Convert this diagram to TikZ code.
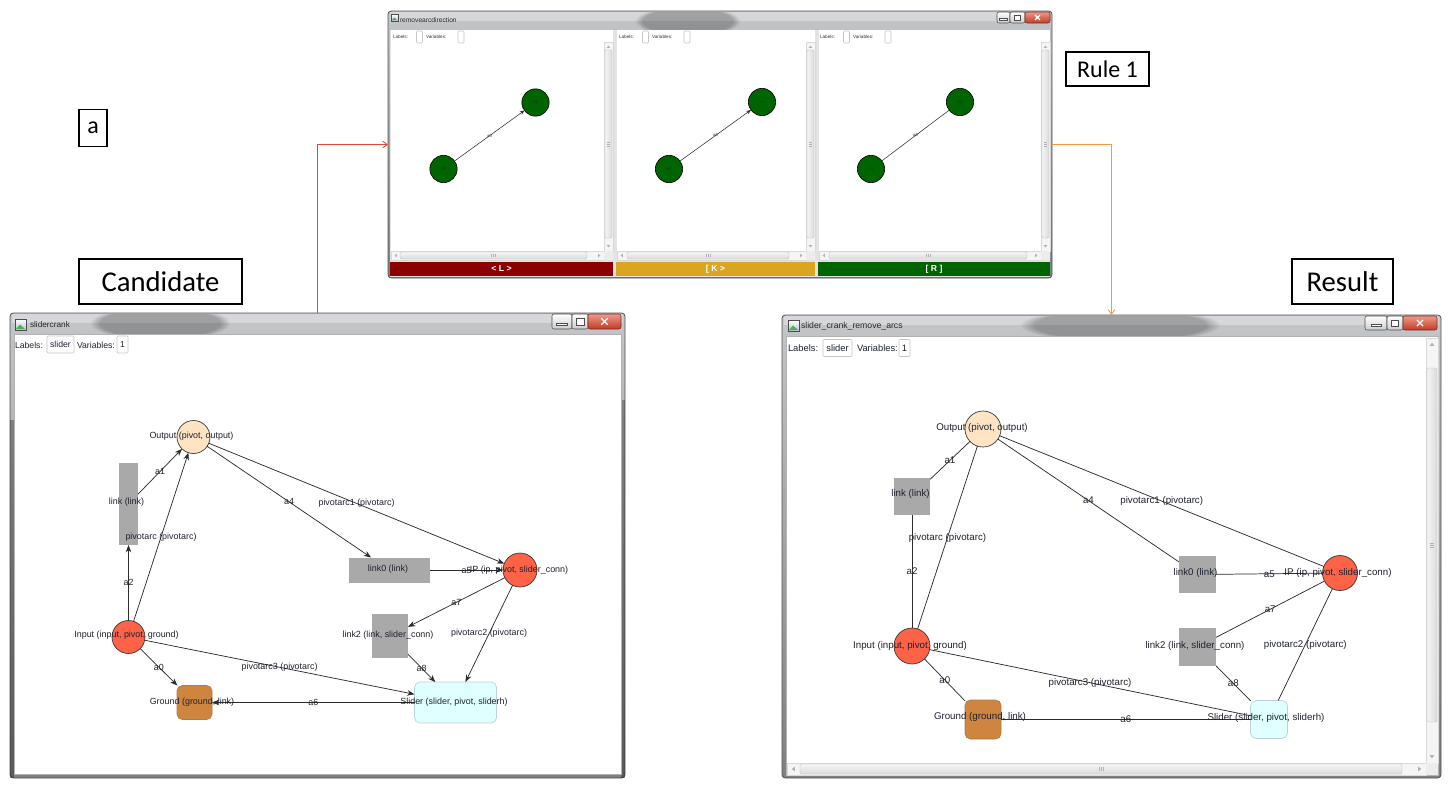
\documentclass[tikz,border=0pt]{standalone}
\usepackage{fontspec}
\setmainfont{Liberation Sans}
\newfontfamily\calfont{Carlito}
\usetikzlibrary{arrows.meta,fit,fadings}

% palette
\definecolor{nodeOut}{HTML}{FFE4C4}
\definecolor{nodeRed}{HTML}{FF6347}
\definecolor{linkGray}{HTML}{A9A9A9}
\definecolor{sliderFill}{HTML}{E0FFFF}
\definecolor{sliderLine}{HTML}{B9D3DA}
\definecolor{groundFill}{HTML}{CD853F}
\definecolor{groundLine}{HTML}{B07A45}
\definecolor{ruleGreen}{HTML}{006400}
\definecolor{barRed}{HTML}{8B0000}
\definecolor{barGold}{HTML}{DAA520}
\definecolor{barGreen}{HTML}{006400}
\definecolor{connRed}{HTML}{E2463B}
\definecolor{connOrange}{HTML}{F79646}
\definecolor{edgeCol}{HTML}{2B2B2B}
\definecolor{textCol}{HTML}{1E2230}
\definecolor{frameTop}{HTML}{C4C7CA}
\definecolor{frameBot}{HTML}{7E8184}
\definecolor{frameLine}{HTML}{505356}
\definecolor{closeTop}{HTML}{EC9A88}
\definecolor{closeBot}{HTML}{C23A27}
\definecolor{closeLine}{HTML}{7A2A20}

\tikzset{
  sz/.style 2 args={minimum width=#1*0.75pt,minimum height=#2*0.75pt},
  circ/.style={circle,minimum size=#1*1.5pt},
  plain/.style={inner sep=0pt,outer sep=0pt},
  tagbox/.style={plain,draw=black,line width=0.8pt,fill=white},
  framefill/.style={rounded corners=2.5pt,top color=frameTop,bottom color=frameBot,draw=frameLine,line width=0.6pt},
  glassblur/.style={fill=black,opacity=0.25,path fading=circle with fuzzy edge 15 percent},
  clientfill/.style={fill=white,draw=gray!60,line width=0.4pt},
  field/.style={plain,draw=gray!45,fill=white,line width=0.4pt,rounded corners=0.8pt},
  btn/.style={rounded corners=1.5pt,top color=white,bottom color=gray!40,draw=gray!60!black,line width=0.4pt},
  btnclose/.style={rounded corners=1.5pt,top color=closeTop,bottom color=closeBot,draw=closeLine,line width=0.4pt},
  sbtrack/.style={fill=gray!8,draw=gray!30,line width=0.3pt},
  sbthumb/.style={rounded corners=1pt,left color=gray!8,right color=gray!28,draw=gray!55,line width=0.3pt},
  sbthumbh/.style={rounded corners=1pt,top color=gray!8,bottom color=gray!28,draw=gray!55,line width=0.3pt},
  linkbox/.style={plain,fill=linkGray},
  outnode/.style={plain,circle,fill=nodeOut,draw=black!80,line width=0.5pt},
  rednode/.style={plain,circle,fill=nodeRed,draw=black!80,line width=0.5pt},
  slidernode/.style={plain,fill=sliderFill,draw=sliderLine,line width=0.5pt,rounded corners=4pt},
  groundnode/.style={plain,fill=groundFill,draw=groundLine,line width=0.5pt,rounded corners=4pt},
  darrow/.style={draw=edgeCol,line width=0.55pt,-{Stealth[length=5.5pt,width=4.2pt]}},
  uline/.style={draw=edgeCol,line width=0.55pt},
  ltext/.style={plain,font=\fontsize{6.7}{8}\selectfont,text=textCol},
  rtext/.style={plain,font=\fontsize{7.3}{8.5}\selectfont,text=textCol},
  gnode/.style={plain,circle,fill=ruleGreen,draw=black,line width=0.45pt,minimum size=20.5pt,font=\fontsize{3.2}{4}\selectfont,text=black!85},
  garrow/.style={draw=edgeCol,line width=0.4pt,-{Stealth[length=3.5pt,width=2.8pt]}},
  gline/.style={draw=edgeCol,line width=0.4pt},
  gtext/.style={plain,font=\fontsize{3.2}{4}\selectfont,text=black!80},
  bartext/.style={plain,font=\bfseries\fontsize{6.5}{7}\selectfont,text=white},
  connRedArrow/.style={draw=connRed,line width=0.6pt,-{Straight Barb[length=3.5pt,width=5pt]}},
  connOrangeArrow/.style={draw=connOrange,line width=0.6pt,-{Straight Barb[length=3.5pt,width=5pt]}},
}

% caption buttons: x-left, x min|max, x max|close, x-right, y-top, y-bottom
\newcommand{\capbuttons}[6]{%
  \draw[btn] (#1,#5) rectangle (#2,#6);
  \draw[btn] (#2,#5) rectangle (#3,#6);
  \draw[btnclose] (#3,#5) rectangle (#4,#6);
  \pgfmathsetmacro\btnCY{(#5+#6)/2}%
  \pgfmathsetmacro\btnU{0.2*(#6-#5)}%
  \pgfmathsetmacro\btnMinX{(#1+#2)/2}%
  \pgfmathsetmacro\btnMaxX{(#2+#3)/2}%
  \pgfmathsetmacro\btnClX{(#3+#4)/2}%
  \draw[black!70,fill=white,line width=0.25pt] ({\btnMinX-1.8*\btnU},{\btnCY+0.4*\btnU}) rectangle ({\btnMinX+1.8*\btnU},{\btnCY+1.3*\btnU});
  \draw[black!70,fill=white,line width=0.3pt] ({\btnMaxX-1.3*\btnU},{\btnCY-1.1*\btnU}) rectangle ({\btnMaxX+1.3*\btnU},{\btnCY+1.1*\btnU});
  \draw[white,line width=0.9pt] ({\btnClX-1.1*\btnU},{\btnCY-1.1*\btnU}) -- ({\btnClX+1.1*\btnU},{\btnCY+1.1*\btnU})
                                ({\btnClX-1.1*\btnU},{\btnCY+1.1*\btnU}) -- ({\btnClX+1.1*\btnU},{\btnCY-1.1*\btnU});
}

% vertical scroll bar: x1, y1, x2, y2, thumb top, thumb bottom
\newcommand{\vscrollbar}[6]{%
  \draw[sbtrack] (#1,#2) rectangle (#3,#4);
  \pgfmathsetmacro\sbCX{(#1+#3)/2}%
  \pgfmathsetmacro\sbW{(#3-#1)}%
  \pgfmathsetmacro\sbMid{(#5+#6)/2}%
  \draw[sbthumb] ({#1+1},#5) rectangle ({#3-1},#6);
  \fill[gray!60] ({\sbCX-0.2*\sbW},{#2+0.65*\sbW}) -- ({\sbCX+0.2*\sbW},{#2+0.65*\sbW}) -- ({\sbCX},{#2+0.4*\sbW}) -- cycle;
  \fill[gray!60] ({\sbCX-0.2*\sbW},{#4-0.65*\sbW}) -- ({\sbCX+0.2*\sbW},{#4-0.65*\sbW}) -- ({\sbCX},{#4-0.4*\sbW}) -- cycle;
  \draw[gray!60,line width=0.3pt] ({\sbCX-0.2*\sbW},{\sbMid-2}) -- ({\sbCX+0.2*\sbW},{\sbMid-2})
     ({\sbCX-0.2*\sbW},{\sbMid}) -- ({\sbCX+0.2*\sbW},{\sbMid}) ({\sbCX-0.2*\sbW},{\sbMid+2}) -- ({\sbCX+0.2*\sbW},{\sbMid+2});
}

% horizontal scroll bar: x1, y1, x2, y2, thumb left, thumb right
\newcommand{\hscrollbar}[6]{%
  \draw[sbtrack] (#1,#2) rectangle (#3,#4);
  \pgfmathsetmacro\sbCY{(#2+#4)/2}%
  \pgfmathsetmacro\sbH{(#4-#2)}%
  \pgfmathsetmacro\sbMid{(#5+#6)/2}%
  \draw[sbthumbh] (#5,{#2+1}) rectangle (#6,{#4-1});
  \fill[gray!60] ({#1+0.65*\sbH},{\sbCY-0.2*\sbH}) -- ({#1+0.65*\sbH},{\sbCY+0.2*\sbH}) -- ({#1+0.4*\sbH},{\sbCY}) -- cycle;
  \fill[gray!60] ({#3-0.65*\sbH},{\sbCY-0.2*\sbH}) -- ({#3-0.65*\sbH},{\sbCY+0.2*\sbH}) -- ({#3-0.4*\sbH},{\sbCY}) -- cycle;
  \draw[gray!60,line width=0.3pt] ({\sbMid-2},{\sbCY-0.2*\sbH}) -- ({\sbMid-2},{\sbCY+0.2*\sbH})
     ({\sbMid},{\sbCY-0.2*\sbH}) -- ({\sbMid},{\sbCY+0.2*\sbH}) ({\sbMid+2},{\sbCY-0.2*\sbH}) -- ({\sbMid+2},{\sbCY+0.2*\sbH});
}

% small application icon in a title bar: x1, y1, x2, y2
\newcommand{\appicon}[4]{%
  \draw[gray!60!black,line width=0.3pt,top color=white,bottom color=blue!25!gray!40] (#1,#2) rectangle (#3,#4);
  \fill[green!40!gray] ({#1+1},{#4-1}) -- ({#1+0.45*(#3-#1)},{#2+0.5*(#4-#2)}) -- ({#3-1},{#4-1}) -- cycle;
}

\begin{document}
\begin{tikzpicture}[x=0.75pt,y=-0.75pt]
\useasboundingbox (0,0) rectangle (1450,790);
\fill[white] (0,0) rectangle (1450,790);

% ------------------------------------------------------------------
% window outlines used as connector anchors
\node[plain,fit={(388,11) (1052,278)}] (rulewin) {};
\node[plain,fit={(10,313) (625,778)}] (candwin) {};
\node[plain,fit={(782,315) (1441,778)}] (reswin) {};

% ------------------------------------------------------------------
% rule editor window
\draw[framefill] (388,11) rectangle (1052,278);
\fill[white,opacity=0.3] (390,12) rectangle (1050,21);
\begin{scope}
  \clip (389,12) rectangle (1051,30);
  \fill[glassblur] (635,6) rectangle (740,36);
\end{scope}
\appicon{391}{14}{398}{21}
\node[plain,anchor=west,font=\fontsize{5}{6}\selectfont,text=black!85] (ruleTitle) at (400,20) {removearcdirection};
\capbuttons{997}{1010}{1025}{1050}{12}{23}
\fill[gray!22] (390,30) rectangle (1050,277);
% three panes
\fill[white] (391,30) rectangle (613,251);
\fill[white] (617,30) rectangle (815,251);
\fill[white] (819,30) rectangle (1050,251);
\vscrollbar{604}{42}{613}{251}{50}{238}
\vscrollbar{806}{42}{815}{251}{50}{238}
\vscrollbar{1041}{42}{1050}{251}{50}{238}
\hscrollbar{391}{251}{604}{260}{400}{587}
\hscrollbar{617}{251}{806}{260}{627}{789}
\hscrollbar{819}{251}{1041}{260}{829}{1027}
\fill[gray!15] (604,251) rectangle (613,260) (806,251) rectangle (815,260) (1041,251) rectangle (1050,260);
% pane headers
\foreach \dx/\nm in {0/a,226/b,427/c}{
  \node[plain,anchor=west,font=\fontsize{3.5}{4}\selectfont,text=black!80] (lab\nm) at ({393+\dx},36.5) {Labels:};
  \node[field,sz={6}{12}] (labf\nm) at ({419.5+\dx},37) {};
  \node[plain,anchor=west,font=\fontsize{3.5}{4}\selectfont,text=black!80] (var\nm) at ({426+\dx},36.5) {Variables:};
  \node[field,sz={6}{12}] (varf\nm) at ({461+\dx},37) {};
}
% colour bars
\node[plain,fill=barRed,sz={223}{14}] (barL) at (501.5,269) {};
\node[plain,fill=barGold,sz={199}{14}] (barK) at (715.5,269) {};
\node[plain,fill=barGreen,sz={232}{14}] (barR) at (934,269) {};
\node[bartext] (barLt) at (barL) {<\ L\ >};
\node[bartext] (barKt) at (barK) {[\ K\ >};
\node[bartext] (barRt) at (barR) {[\ R\ ]};
% rule graphs
\node[gnode] (p1n1) at (535.5,102.5) {n1};
\node[gnode] (p1n0) at (443.5,169) {n0};
\draw[garrow] (p1n0) -- node[gtext] (p1a0) {a0} (p1n1);
\node[gnode] (p2n1) at (762,102) {n1};
\node[gnode] (p2n0) at (669,169) {n0};
\draw[garrow] (p2n0) -- node[gtext] (p2a0) {a0} (p2n1);
\node[gnode] (p3n1) at (960,102) {n1};
\node[gnode] (p3n0) at (871,169) {n0};
\draw[gline] (p3n0) -- node[gtext] (p3a0) {a0} (p3n1);

% ------------------------------------------------------------------
% candidate window
\draw[framefill] (10,313) rectangle (625,778);
\fill[white,opacity=0.3] (12,314) rectangle (623,323);
\begin{scope}
  \clip (11,314) rectangle (624,333);
  \fill[glassblur] (90,306) rectangle (230,340);
\end{scope}
\fill[black,opacity=0.3] (10.3,420) rectangle (14,777.7);
\fill[black,opacity=0.3] (621,400) rectangle (624.7,777.7);
\appicon{15}{319}{26}{330}
\node[plain,anchor=west,font=\fontsize{6.2}{7}\selectfont,text=black!85] (candTitle) at (30,325) {slidercrank};
\capbuttons{552}{572}{588}{621}{314}{329}
\draw[clientfill] (14,334) rectangle (621,774);
\node[plain,anchor=west,font=\fontsize{6.5}{7.5}\selectfont,text=textCol] (candLab) at (15,345) {Labels:};
\node[field,sz={27}{17},font=\fontsize{6.5}{7.5}\selectfont,text=textCol] (candLabF) at (60.5,344.5) {slider};
\node[plain,anchor=west,font=\fontsize{6.5}{7.5}\selectfont,text=textCol] (candVar) at (77,345) {Variables:};
\node[field,sz={11}{17},font=\fontsize{6.5}{7.5}\selectfont,text=textCol] (candVarF) at (122.5,344.5) {1};

% candidate graph nodes
\node[outnode,circ=16.5] (lOut) at (193.5,437) {};
\node[linkbox,sz={19}{82}] (lLink) at (128.5,504) {};
\node[rednode,circ=16.5] (lIn) at (128.5,637) {};
\node[linkbox,sz={81}{25}] (lLink0) at (389.5,570) {};
\node[rednode,circ=17] (lIP) at (520,570) {};
\node[linkbox,sz={36}{44}] (lLink2) at (390,636) {};
\node[slidernode,sz={82}{41}] (lSlider) at (455.5,702.5) {};
\node[groundnode,sz={35}{34}] (lGround) at (194.5,702.5) {};
% candidate graph arcs
\draw[darrow] (lLink) -- node[ltext] (la1) {a1} (lOut);
\draw[darrow] (lIn) -- node[ltext] (lpa) {pivotarc (pivotarc)} (lOut);
\draw[darrow] (lIn) -- node[ltext] (la2) {a2} (lLink);
\draw[darrow] (lOut) -- node[ltext] (la4) {a4} (lLink0);
\draw[darrow] (lOut) -- node[ltext] (lpa1) {pivotarc1 (pivotarc)} (lIP);
\draw[darrow] (lLink0) -- node[ltext] (la5) {a5} (lIP);
\draw[darrow] (lIP) -- node[ltext] (la7) {a7} (lLink2);
\draw[darrow] (lIP) -- node[ltext] (lpa2) {pivotarc2 (pivotarc)} (lSlider);
\draw[darrow] (lLink2) -- node[ltext] (la8) {a8} (lSlider);
\draw[darrow] (lIn) -- node[ltext] (lpa3) {pivotarc3 (pivotarc)} (lSlider);
\draw[darrow] (lIn) -- node[ltext] (la0) {a0} (lGround);
\draw[darrow] (lSlider) -- node[ltext] (la6) {a6} (lGround);
% candidate node captions
\node[ltext] (lOutT) at (191.5,436) {Output (pivot, output)};
\node[ltext] (lLinkT) at (126.5,502) {link (link)};
\node[ltext] (lInT) at (126.5,635) {Input (input, pivot, ground)};
\node[ltext] (lLink0T) at (388,569) {link0 (link)};
\node[ltext] (lIPT) at (519,570) {IP (ip, pivot, slider\_conn)};
\node[ltext] (lLink2T) at (388,635) {link2 (link, slider\_conn)};
\node[ltext] (lSliderT) at (454,702) {Slider (slider, pivot, sliderh)};
\node[ltext] (lGroundT) at (192,702) {Ground (ground, link)};

% ------------------------------------------------------------------
% result window
\draw[framefill] (782,315) rectangle (1441,778);
\fill[white,opacity=0.3] (784,316) rectangle (1439,325);
\begin{scope}
  \clip (783,316) rectangle (1440,335);
  \fill[glassblur] (1020,308) rectangle (1220,342);
\end{scope}
\appicon{788}{320}{799}{331}
\node[plain,anchor=west,font=\fontsize{6.5}{7.5}\selectfont,text=black!85] (resTitle) at (801,326) {slider\_crank\_remove\_arcs};
\capbuttons{1365}{1387}{1403}{1437}{316}{330}
\draw[clientfill] (786,336) rectangle (1438,775);
\node[plain,anchor=west,font=\fontsize{7}{8}\selectfont,text=textCol] (resLab) at (788,348) {Labels:};
\node[field,sz={29}{17},font=\fontsize{7}{8}\selectfont,text=textCol] (resLabF) at (837.5,348) {slider};
\node[plain,anchor=west,font=\fontsize{7}{8}\selectfont,text=textCol] (resVar) at (857,348) {Variables:};
\node[field,sz={11}{17},font=\fontsize{7}{8}\selectfont,text=textCol] (resVarF) at (904.5,348) {1};
\vscrollbar{1426}{338}{1438}{763}{368}{722}
\hscrollbar{787}{763}{1426}{775}{800}{1402}
\fill[gray!15] (1426,763) rectangle (1438,775);

% result graph nodes
\node[outnode,circ=18] (rOut) at (983,429) {};
\node[linkbox,sz={36}{37}] (rLink) at (912,496.5) {};
\node[rednode,circ=18] (rIn) at (912,646) {};
\node[linkbox,sz={37}{37}] (rLink0) at (1197.5,574.5) {};
\node[rednode,circ=17.5] (rIP) at (1340,573) {};
\node[linkbox,sz={37}{38}] (rLink2) at (1197.5,647) {};
\node[slidernode,sz={37}{38}] (rSlider) at (1269,719.5) {};
\node[groundnode,sz={36}{39}] (rGround) at (983,719.5) {};
% result graph edges
\draw[uline] (rLink) -- node[rtext] (ra1) {a1} (rOut);
\draw[uline] (rIn) -- node[rtext] (rpa) {pivotarc (pivotarc)} (rOut);
\draw[uline] (rIn) -- node[rtext] (ra2) {a2} (rLink);
\draw[uline] (rOut) -- node[rtext] (ra4) {a4} (rLink0);
\draw[uline] (rOut) -- node[rtext] (rpa1) {pivotarc1 (pivotarc)} (rIP);
\draw[uline] (rLink0) -- node[rtext] (ra5) {a5} (rIP);
\draw[uline] (rIP) -- node[rtext] (ra7) {a7} (rLink2);
\draw[uline] (rIP) -- node[rtext] (rpa2) {pivotarc2 (pivotarc)} (rSlider);
\draw[uline] (rLink2) -- node[rtext] (ra8) {a8} (rSlider);
\draw[uline] (rIn) -- node[rtext] (rpa3) {pivotarc3 (pivotarc)} (rSlider);
\draw[uline] (rIn) -- node[rtext] (ra0) {a0} (rGround);
\draw[uline] (rGround) -- node[rtext] (ra6) {a6} (rSlider);
% result node captions
\node[rtext] (rOutT) at (982,428) {Output (pivot, output)};
\node[rtext] (rLinkT) at (910.5,494) {link (link)};
\node[rtext] (rInT) at (910,646) {Input (input, pivot, ground)};
\node[rtext] (rLink0T) at (1195.5,573) {link0 (link)};
\node[rtext] (rIPT) at (1338,573) {IP (ip, pivot, slider\_conn)};
\node[rtext] (rLink2T) at (1195,645.5) {link2 (link, slider\_conn)};
\node[rtext] (rSliderT) at (1266,718) {Slider (slider, pivot, sliderh)};
\node[rtext] (rGroundT) at (980,717) {Ground (ground, link)};

% ------------------------------------------------------------------
% callout tags
\node[tagbox,sz={28}{37},font=\calfont\fontsize{18}{20}\selectfont] (tagA) at (93,128) {a};
\node[tagbox,sz={83}{34},font=\calfont\fontsize{18}{20}\selectfont] (tagRule) at (1107.5,69) {Rule 1};
\node[tagbox,sz={163}{45},font=\calfont\fontsize{21.5}{24}\selectfont] (tagCand) at (160.5,281.5) {Candidate};
\node[tagbox,sz={101}{45},font=\calfont\fontsize{21.5}{24}\selectfont] (tagRes) at (1342.5,281.5) {Result};

% flow connectors
\draw[connRedArrow] (candwin.north) |- (rulewin.west);
\draw[connOrangeArrow] (rulewin.east) -| (reswin.north);
\end{tikzpicture}
\end{document}
